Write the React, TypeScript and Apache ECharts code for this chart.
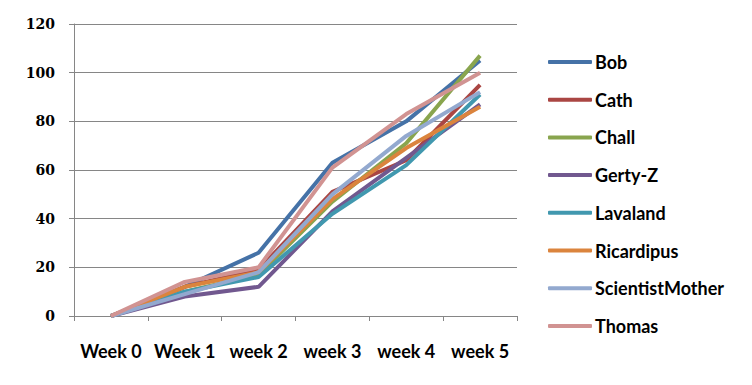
import React, { useEffect, useRef } from "react";
import * as echarts from "echarts";

const categories = ["Week 0", "Week 1", "week 2", "week 3", "week 4", "week 5"];
const seriesNames = ["Bob", "Cath", "Chall", "Gerty-Z", "Lavaland", "Ricardipus", "ScientistMother", "Thomas"];
const bob = [0, 12, 26, 63, 80, 105];
const cath = [0, 12, 19, 51, 64, 95];
const chall = [0, 10, 17, 47, 71, 107];
const gerty = [0, 8, 12, 43, 65, 87];
const lavaland = [0, 10, 16, 42, 62, 91];
const ricardipus = [0, 12, 18, 48, 69, 86];
const scientistMother = [0, 9, 18, 50, 74, 92];
const thomas = [0, 14, 20, 61, 83, 100];
const colors = ["#4572A7", "#AA4643", "#89A54E", "#71588F", "#4198AF", "#DB843D", "#93A9CF", "#D19392"];
const yTicks = { min: 0, max: 120, interval: 20 };

export default function App() {
  const ref = useRef<HTMLDivElement>(null);
  useEffect(() => {
    if (!ref.current) return;
    const chart = echarts.init(ref.current, undefined, { renderer: "svg" });
    const data = [bob, cath, chall, gerty, lavaland, ricardipus, scientistMother, thomas];
    const font = "Lato";
    chart.setOption({
      animation: false,
      color: colors,
      grid: { left: 74, right: 235, top: 24, bottom: 69 },
      legend: {
        orient: "vertical",
        left: 543,
        top: 47,
        itemWidth: 44,
        itemHeight: 4,
        itemGap: 17.7,
        icon: "roundRect",
        data: seriesNames,
        textStyle: { fontFamily: font, fontWeight: "bold", fontSize: 18, color: "#000", lineHeight: 20, padding: [0, 0, 0, -2] },
      },
      xAxis: {
        type: "category",
        data: categories,
        boundaryGap: true,
        axisLine: { lineStyle: { color: "#868686", width: 1 } },
        axisTick: { show: true, length: 5, lineStyle: { color: "#868686" } },
        axisLabel: { interval: 0, fontFamily: font, fontWeight: "bold", fontSize: 18, color: "#000", margin: 26 },
      },
      yAxis: {
        type: "value",
        min: yTicks.min,
        max: yTicks.max,
        interval: yTicks.interval,
        axisLine: { show: true, lineStyle: { color: "#868686", width: 1 } },
        axisTick: { show: true, length: 5, lineStyle: { color: "#868686" } },
        splitLine: { lineStyle: { color: "#868686", width: 1 } },
        axisLabel: { fontFamily: "DejaVu Serif", fontWeight: "bold", fontSize: 14, color: "#000", margin: 19 },
      },
      series: seriesNames.map((name, i) => ({
        name,
        type: "line",
        data: data[i],
        showSymbol: false,
        symbol: "none",
        lineStyle: { width: 4, color: colors[i] },
        itemStyle: { color: colors[i] },
      })),
    });
    return () => chart.dispose();
  }, []);
  return <div ref={ref} style={{ width: 752, height: 385, position: "absolute", left: 0, top: 0 }} />;
}
